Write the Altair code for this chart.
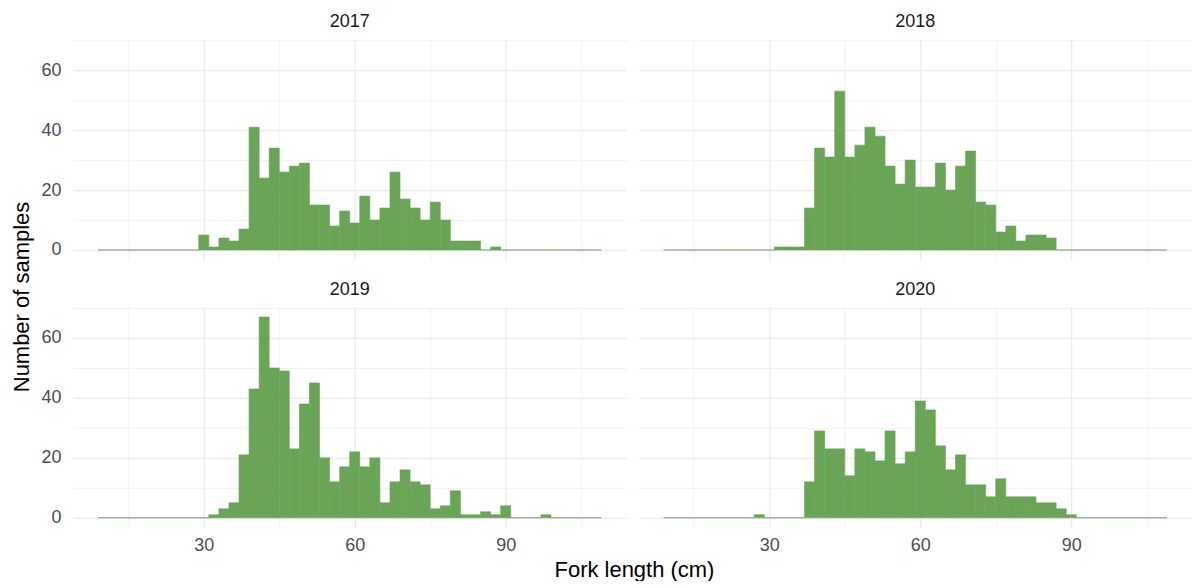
import altair as alt
import pandas as pd

# Histogram bins: 50 bins of width 2, first edge at 9 cm
first_edge = 9
bin_width = 2

counts_2017 = [0]*10 + [5, 1, 4, 3, 7, 41, 24, 34, 26, 28, 29, 15, 15, 8, 13, 9, 18, 10, 14, 26,
                        17, 14, 10, 16, 10, 3, 3, 3, 0, 1] + [0]*10
counts_2018 = [0]*11 + [1, 1, 1, 14, 34, 31, 53, 31, 35, 41, 38, 28, 22, 30, 21, 21, 29, 20, 28,
                        33, 16, 15, 6, 8, 3, 5, 5, 4] + [0]*11
counts_2019 = [0]*11 + [1, 3, 5, 21, 43, 67, 50, 49, 23, 38, 45, 20, 12, 17, 22, 17, 20, 5, 12,
                        16, 12, 11, 3, 4, 9, 1, 1, 2, 1, 4, 0, 0, 0, 1] + [0]*5
counts_2020 = [0]*9 + [1, 0, 0, 0, 0, 12, 29, 23, 23, 14, 23, 22, 19, 29, 18, 22, 39, 36, 24, 16,
                       21, 11, 11, 7, 13, 7, 7, 7, 5, 5, 3, 1] + [0]*9

years = [2017, 2018, 2019, 2020]
all_counts = [counts_2017, counts_2018, counts_2019, counts_2020]

x_ticks = [15, 30, 45, 60, 75, 90, 105]
y_ticks = [0, 10, 20, 30, 40, 50, 60, 70]

rows = []
for yr, vals in zip(years, all_counts):
    for i, c in enumerate(vals):
        s = first_edge + bin_width * i
        rows.append({"year": yr, "start": s, "end": s + bin_width, "count": c})
df = pd.DataFrame(rows)

GREEN = "#6aa457"
GRID = "#ebebeb"
FONT = "Liberation Sans"
W, H = 554, 221


def x_axis(show):
    return alt.Axis(
        values=x_ticks,
        labels=show,
        labelExpr="datum.value % 30 === 0 ? datum.label : ''",
        labelPadding=9,
        ticks=False,
        domain=False,
        title=None,
        grid=True,
        gridColor=GRID,
        gridWidth={"condition": {"test": "datum.value % 30 === 0", "value": 1.3}, "value": 0.6},
    )


def y_axis(show):
    return alt.Axis(
        values=y_ticks,
        labels=show,
        labelExpr="datum.value % 20 === 0 ? datum.label : ''",
        labelPadding=12,
        ticks=False,
        domain=False,
        title=None,
        grid=True,
        gridColor=GRID,
        gridWidth={"condition": {"test": "datum.value % 20 === 0", "value": 1.3}, "value": 0.6},
    )


def panel(yr, show_x, show_y):
    return (
        alt.Chart(df[df.year == yr])
        .mark_bar(color=GREEN, stroke=GREEN, strokeWidth=0.6)
        .encode(
            x=alt.X("start:Q", scale=alt.Scale(domain=[4, 114], nice=False, zero=False), axis=x_axis(show_x)),
            x2="end:Q",
            y=alt.Y("count:Q", scale=alt.Scale(domain=[-3.35, 70.35], nice=False, zero=False), axis=y_axis(show_y)),
            y2=alt.datum(0),
        )
        .properties(
            width=W,
            height=H,
            title=alt.TitleParams(str(yr), fontSize=18, fontWeight="normal", color="#1a1a1a",
                                  anchor="middle", offset=8, font=FONT),
        )
    )


top = alt.hconcat(panel(2017, False, True), panel(2018, False, False), spacing=12)
bottom = alt.hconcat(panel(2019, True, True), panel(2020, True, False), spacing=12)
inner = alt.vconcat(
    top, bottom, spacing=21,
    title=alt.TitleParams("Fork length (cm)", orient="bottom", anchor="middle", fontSize=22,
                          fontWeight="normal", color="#000000", offset=5, font=FONT, dx=18),
)
chart = alt.hconcat(
    inner,
    title=alt.TitleParams("Number of samples", orient="left", anchor="middle", fontSize=22,
                          fontWeight="normal", color="#000000", offset=7, font=FONT),
).properties(padding={"left": 2, "top": 5, "right": 0, "bottom": 0}, background="white"
).configure_view(stroke=None).configure_axis(
    labelFont=FONT, labelFontSize=18, labelColor="#4d4d4d"
).configure_title(font=FONT)

chart.save("out.html", embed_options={"renderer": "svg", "actions": False})
